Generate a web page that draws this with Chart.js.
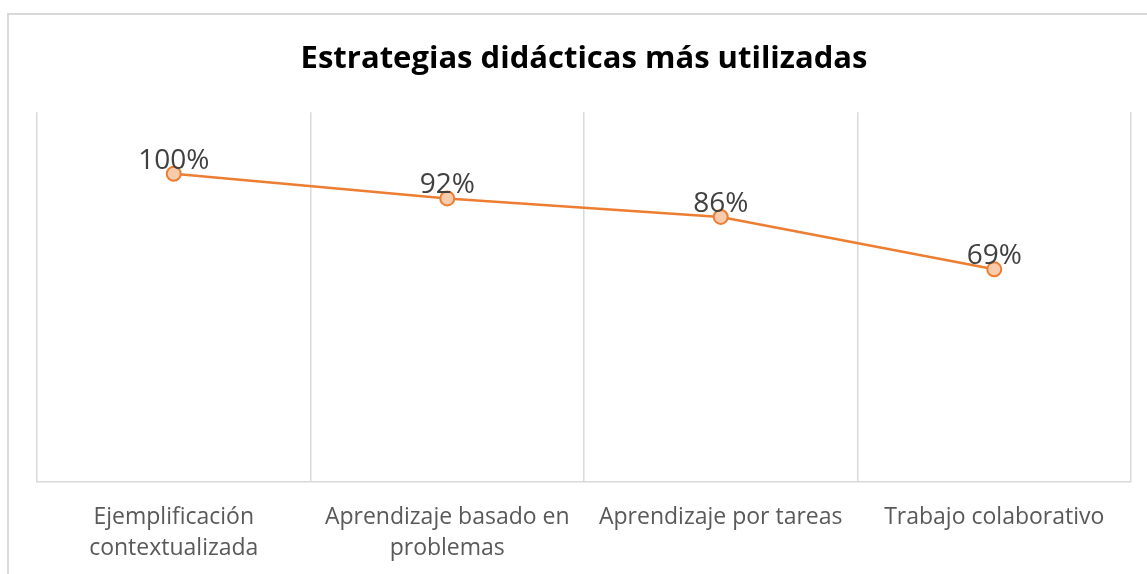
<!DOCTYPE html>
<html>
<head>
<meta charset="utf-8">
<script src="https://cdn.jsdelivr.net/npm/chart.js@4"></script>
<style>
    html, body { margin: 0; padding: 0; background: #fff; overflow: hidden; }
    #frame {
        position: absolute; left: 7px; top: 13px; width: 1160px; height: 600px;
        border: 2px solid #d9d9d9; box-sizing: border-box;
    }
    #wrap { position: absolute; left: 0; top: 0; width: 1147px; height: 584px; }
</style>
</head>
<body>
<div id="frame"></div>
<div id="wrap"><canvas id="chart"></canvas></div>
<script>
// Chart data
const categories = [
    ['Ejemplificación', 'contextualizada'],
    ['Aprendizaje basado en', 'problemas'],
    'Aprendizaje por tareas',
    'Trabajo colaborativo'
];
const values = [1.00, 0.92, 0.86, 0.69];
const valueLabels = ['100%', '92%', '86%', '69%'];

// Draws the percentage above each point
const pointLabels = {
    id: 'pointLabels',
    afterDatasetsDraw(chart) {
        const ctx = chart.ctx;
        const meta = chart.getDatasetMeta(0);
        ctx.save();
        ctx.font = '28px "Open Sans"';
        ctx.fillStyle = '#404040';
        ctx.textAlign = 'center';
        ctx.textBaseline = 'alphabetic';
        meta.data.forEach((pt, i) => {
            ctx.fillText(valueLabels[i], pt.x, pt.y - 5);
        });
        ctx.restore();
    }
};

const ctx = document.getElementById('chart').getContext('2d');
new Chart(ctx, {
    type: 'line',
    data: {
        labels: categories,
        datasets: [{
            data: values,
            borderColor: '#ED7D31',
            borderWidth: 2.5,
            backgroundColor: '#F8CBAD',
            pointBackgroundColor: '#F8CBAD',
            pointBorderColor: '#ED7D31',
            pointBorderWidth: 2,
            pointRadius: 7,
            tension: 0
        }]
    },
    options: {
        responsive: true,
        maintainAspectRatio: false,
        animation: false,
        layout: { padding: { left: 37, right: 16, top: 0, bottom: 0 } },
        plugins: {
            legend: { display: false },
            tooltip: { enabled: false },
            title: {
                display: true,
                text: 'Estrategias didácticas más utilizadas',
                color: '#000',
                font: { family: 'Open Sans', size: 31, weight: 'bold', lineHeight: 1.2 },
                padding: { top: 41, bottom: 34 }
            }
        },
        scales: {
            x: {
                offset: true,
                grid: { offset: true, color: '#d9d9d9', lineWidth: 1.5, drawTicks: false },
                border: { color: '#d9d9d9', width: 1.5 },
                ticks: {
                    color: '#595959',
                    font: { family: 'Open Sans', size: 23, lineHeight: 1.35 },
                    padding: 20,
                    maxRotation: 0,
                    autoSkip: false
                }
            },
            y: {
                display: false,
                min: 0,
                max: 1.2
            }
        }
    },
    plugins: [pointLabels]
});
</script>
</body>
</html>
